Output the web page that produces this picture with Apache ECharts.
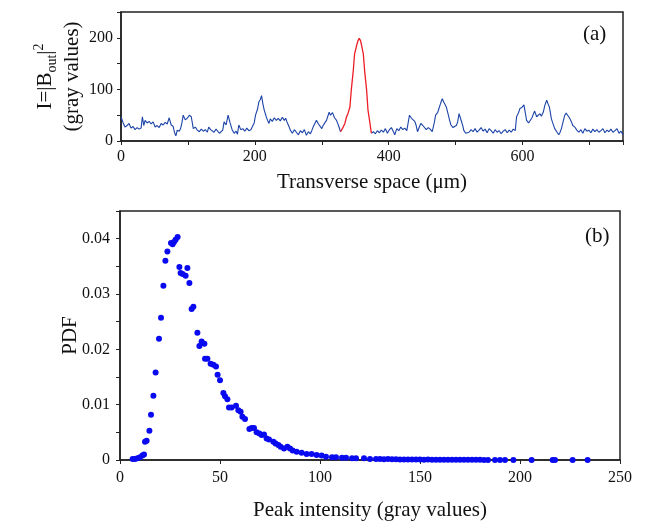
<!DOCTYPE html>
<html>
<head>
<meta charset="utf-8">
<script src="https://cdn.jsdelivr.net/npm/echarts@6/dist/echarts.min.js"></script>
<style>
html,body{margin:0;padding:0;background:#fff;}
#chart{width:649px;height:525px;}
</style>
</head>
<body>
<div id="chart"></div>
<script>
// Panel (a): intensity profile, [transverse position µm, gray value]
const profileBlueLeft = [[0,47],[3,36],[6,27],[9,30],[12,34],[15,25],[18,28],[21,22],[24,26],[27,23],[30,25],[32,47],[34,30],[36,40],[39,35],[42,38],[45,33],[48,37],[51,27],[54,30],[57,26],[60,34],[63,31],[66,36],[69,33],[72,45],[75,31],[78,28],[80,16],[82,10],[84,21],[87,19],[89,24],[91,35],[93,50],[96,41],[99,44],[102,50],[105,47],[108,24],[111,27],[114,21],[117,18],[120,23],[123,19],[126,22],[129,17],[131,27],[134,22],[136,24],[139,17],[142,23],[144,21],[147,15],[149,12],[152,21],[154,37],[157,31],[160,50],[163,35],[166,22],[169,15],[172,19],[174,13],[176,31],[179,22],[182,24],[185,19],[188,25],[191,20],[194,22],[196,27],[199,35],[201,50],[204,62],[206,76],[208,80],[210,88],[212,72],[214,60],[217,47],[219,40],[221,34],[223,43],[226,38],[229,45],[232,40],[235,44],[238,39],[241,46],[244,40],[246,44],[248,37],[251,28],[253,21],[256,15],[259,22],[262,17],[265,12],[268,20],[271,16],[274,22],[277,11],[280,18],[283,14],[285,20],[287,27],[290,35],[292,40],[295,33],[297,31],[300,24],[302,30],[305,36],[307,40],[309,48],[311,56],[313,50],[316,55],[319,45],[322,40],[325,30],[328,18]];
const profileRed = [[328,18],[332,27],[334.5,34],[337,47],[339,53],[342,66],[344,98],[347,136],[349,169],[352,185],[354,194],[356,199],[358,194],[359,188],[362,169],[364,136],[367,98],[369,60],[372,34],[374,15]];
const profileBlueRight = [[374,15],[377,18],[380,14],[383,20],[386,16],[389,21],[392,17],[395,24],[398,15],[401,22],[404,26],[407,18],[409,12],[412,24],[415,20],[418,27],[421,22],[424,25],[427,20],[429,35],[431,50],[434,44],[436,47],[439,38],[441,30],[443,18],[446,28],[448,34],[451,30],[453,27],[456,22],[459,26],[462,23],[465,18],[468,35],[470,50],[473,55],[475,63],[478,75],[480,82],[482,76],[484,79],[486,66],[488,56],[491,40],[493,31],[496,26],[498,24],[501,30],[503,37],[505,53],[507,45],[509,43],[511,28],[512,21],[515,15],[517,12],[520,17],[523,22],[526,18],[529,24],[532,17],[535,21],[538,26],[541,19],[544,23],[547,16],[550,24],[553,20],[556,15],[559,22],[562,17],[565,20],[568,14],[571,19],[574,22],[577,16],[580,21],[583,17],[586,23],[589,20],[591,47],[594,55],[596,63],[599,65],[602,70],[604,55],[606,40],[609,35],[611,37],[614,45],[616,52],[618,58],[621,47],[623,50],[626,53],[628,48],[631,56],[633,68],[636,79],[638,72],[640,66],[643,43],[645,35],[648,24],[651,18],[654,12],[656,17],[658,24],[661,40],[663,50],[665,54],[667,53],[670,45],[673,37],[675,30],[678,27],[681,21],[684,17],[687,22],[690,15],[693,24],[696,19],[699,21],[702,16],[705,23],[708,18],[711,22],[714,17],[717,20],[720,24],[723,16],[726,21],[729,18],[732,23],[735,17],[738,20],[741,24],[744,15],[747,19],[750,12]];

// Panel (b): PDF of peak intensity, [gray value, PDF]
const pdfPoints = [[6.3,0.0002],[7.5,0.0002],[8.7,0.0003],[10,0.0005],[11.2,0.0008],[12,0.001],[12.5,0.0033],[13.3,0.0035],[14.7,0.0053],[15.5,0.0082],[16.7,0.0116],[17.8,0.0158],[19.5,0.0219],[20.5,0.0257],[21.7,0.0315],[22.7,0.036],[23.7,0.0377],[25.5,0.0392],[26.3,0.039],[27,0.0394],[27.8,0.0398],[28.8,0.0403],[29.7,0.0349],[30.3,0.0338],[31.3,0.0336],[32.8,0.0333],[33.7,0.0347],[34.7,0.032],[35.8,0.0273],[36.7,0.0277],[38.7,0.023],[39.7,0.0206],[40.8,0.0214],[42.2,0.021],[42.5,0.0183],[43.7,0.0183],[45.3,0.0174],[46.7,0.0172],[48,0.0169],[48.8,0.0154],[50,0.0144],[51.7,0.0121],[52.5,0.0115],[53.7,0.011],[54.5,0.0095],[55.8,0.0095],[58,0.0098],[59.2,0.009],[60.3,0.0087],[61.2,0.0078],[62.5,0.0074],[64.7,0.0056],[65.8,0.0058],[67,0.0058],[68.3,0.005],[69.7,0.0048],[70.8,0.0045],[72,0.0046],[73.3,0.0039],[74.5,0.0037],[76.7,0.0033],[77.8,0.003],[79.2,0.0027],[80.3,0.0024],[82,0.0021],[83.7,0.0024],[85,0.0021],[86.3,0.0017],[88.3,0.0015],[90.8,0.0013],[93.3,0.0011],[95.8,0.0011],[98.3,0.0009],[100.8,0.0008],[103,0.0006],[106,0.0005],[108,0.0005],[111,0.0004],[113,0.0004],[116,0.0003],[118,0.0003],[122,0.0003],[125,0.0002],[128,0.0002],[130,0.00018],[132,0.00015],[134,0.00016],[136,0.00012],[138,0.00013],[140,0.0001],[142,0.0001],[144,0.00009],[146,0.00008],[148,0.00009],[150,0.00007],[152,0.00006],[154,0.00007],[156,0.00005],[158,0.00006],[160,0.00005],[162,0.00004],[164,0.00005],[166,0.00004],[168,0.00004],[170,0.00003],[172,0.00004],[174,0.00003],[176,0.00003],[178,0.00003],[180,0.00003],[182,0.00002],[184,0.00002],[187.5,0.00002],[190,0.00002],[192.5,0.00002],[196.7,0.00002],[205.8,0.00001],[216.3,0.00001],[217.5,0.00001],[226.3,0.00001],[233.8,0.00001]];

const FONT = '"Liberation Serif","Times New Roman",serif';
const AX = '#222';

const chart = echarts.init(document.getElementById('chart'), null, {renderer:'canvas'});

function axisCommon(){
  return {
    axisLine:{show:true,lineStyle:{color:AX,width:1.5}},
    axisTick:{show:true,inside:false,length:4,lineStyle:{color:AX,width:1}},
    splitLine:{show:false},
    nameMoveOverlap:false,
    axisLabel:{color:'#111',fontFamily:FONT,fontSize:16}
  };
}

const option = {
  animation:false,
  backgroundColor:'#fff',
  grid:[
    {left:121,right:26,top:12,height:129,show:true,borderColor:AX,borderWidth:1.5,backgroundColor:'transparent'},
    {left:120,right:29,top:211,height:249,show:true,borderColor:AX,borderWidth:1.5,backgroundColor:'transparent'}
  ],
  xAxis:[
    Object.assign(axisCommon(),{
      gridIndex:0,type:'value',min:0,max:750,interval:100,
      name:'Transverse space (\u03bcm)',nameLocation:'middle',nameGap:31,
      nameTextStyle:{fontFamily:FONT,fontSize:21,color:'#111'},
      axisLabel:{color:'#111',fontFamily:FONT,fontSize:16,margin:8,
        formatter:v=> (v%200===0 ? String(v) : '')}
    }),
    Object.assign(axisCommon(),{
      gridIndex:1,type:'value',min:0,max:250,interval:50,
      name:'Peak intensity (gray values)',nameLocation:'middle',nameGap:40,
      nameTextStyle:{fontFamily:FONT,fontSize:21,color:'#111'},
      axisLabel:{color:'#111',fontFamily:FONT,fontSize:16,margin:10}
    })
  ],
  yAxis:[
    Object.assign(axisCommon(),{
      gridIndex:0,type:'value',min:0,max:250,interval:50,
      name:'{n|I=|B}{sub|out}{n||}{sup|2}\n{n|(gray values)}',
      nameLocation:'middle',nameGap:35,nameRotate:90,
      nameTextStyle:{fontFamily:FONT,fontSize:21,color:'#111',lineHeight:27,
        rich:{
          n:{fontFamily:FONT,fontSize:21,color:'#111',lineHeight:27},
          sub:{fontFamily:FONT,fontSize:14,color:'#111',lineHeight:27,verticalAlign:'bottom',padding:[8,0,0,0]},
          sup:{fontFamily:FONT,fontSize:14,color:'#111',lineHeight:27,verticalAlign:'top',padding:[0,0,10,0]}
        }},
      axisLabel:{color:'#111',fontFamily:FONT,fontSize:16,margin:8,
        formatter:v=> (v%100===0 ? String(v) : '')}
    }),
    Object.assign(axisCommon(),{
      gridIndex:1,type:'value',min:0,max:0.045,interval:0.005,
      name:'PDF',nameLocation:'middle',nameGap:39,nameRotate:90,
      nameTextStyle:{fontFamily:FONT,fontSize:21,color:'#111'},
      axisLabel:{color:'#111',fontFamily:FONT,fontSize:16,margin:10,
        formatter:v=>{ const k=Math.round(v*1000); if(k%10!==0) return ''; return k===0?'0':(k/1000).toFixed(2); }}
    })
  ],
  graphic:[
    {type:'text',left:583,top:24,style:{text:'(a)',font:'21px '+FONT,fill:'#111'}},
    {type:'text',left:585,top:226,style:{text:'(b)',font:'21px '+FONT,fill:'#111'}}
  ],
  series:[
    {type:'line',xAxisIndex:0,yAxisIndex:0,data:profileBlueLeft,showSymbol:false,
      lineStyle:{color:'#1c43a8',width:1.1},itemStyle:{color:'#1c43a8'}},
    {type:'line',xAxisIndex:0,yAxisIndex:0,data:profileBlueRight,showSymbol:false,
      lineStyle:{color:'#1c43a8',width:1.1},itemStyle:{color:'#1c43a8'}},
    {type:'line',xAxisIndex:0,yAxisIndex:0,data:profileRed,showSymbol:false,
      lineStyle:{color:'#ee1c24',width:1.3},itemStyle:{color:'#ee1c24'}},
    {type:'scatter',xAxisIndex:1,yAxisIndex:1,data:pdfPoints,symbol:'circle',symbolSize:6,
      itemStyle:{color:'#0a0af0',opacity:1}}
  ]
};
chart.setOption(option);
</script>
</body>
</html>
